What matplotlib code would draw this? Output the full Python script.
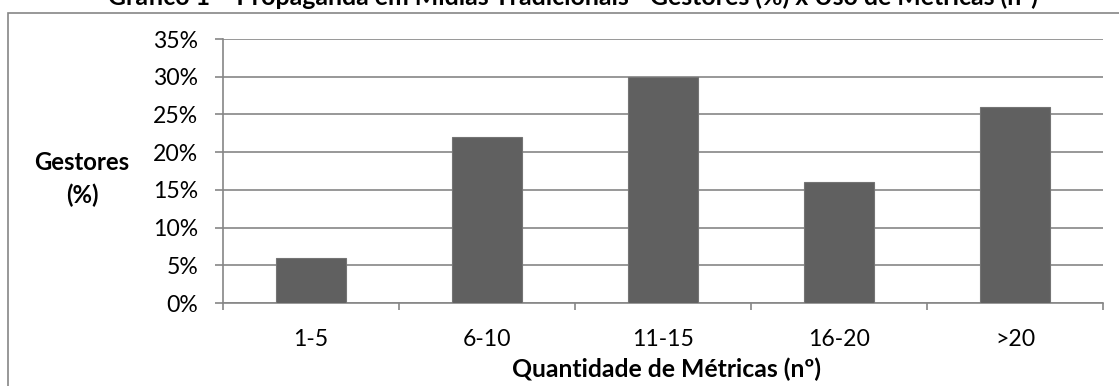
import matplotlib
matplotlib.use("Agg")
import matplotlib.pyplot as plt
from matplotlib.patches import Rectangle
from matplotlib.ticker import FixedLocator, FuncFormatter

categories = ["1-5", "6-10", "11-15", "16-20", ">20"]
gestores_pct = [6, 22, 30, 16, 26]
y_ticks = [0, 5, 10, 15, 20, 25, 30, 35]

title = "Gráfico 1 – Propaganda em Mídias Tradicionais - Gestores (%) x Uso de Métricas (nº)"
x_title = "Quantidade de Métricas (nº)"
y_title_lines = ["Gestores", "(%)"]

W, H = 1119, 386
plt.rcParams["font.family"] = ["Lato", "DejaVu Sans"]
grid_col = "#868686"
bar_col = "#606060"

fig = plt.figure(figsize=(W / 100, H / 100), dpi=100)
fig.patch.set_facecolor("white")
renderer = fig.canvas.get_renderer()


def fit_width(txt, width_px):
    """Scale a text's font size so that it spans the given width in pixels."""
    for _ in range(3):
        bb = txt.get_window_extent(renderer)
        txt.set_fontsize(txt.get_fontsize() * width_px / bb.width)
    return txt.get_fontsize()


def fx(px):
    return px / W


def fy(py):
    return 1 - py / H


# font size for tick labels, sized from a sample label
probe = fig.text(0, 0, "35%", fontsize=14)
tick_size = fit_width(probe, 45)
probe.remove()

# outer frame of the chart area (runs past the right and bottom edges)
frame = Rectangle((fx(8), -0.1), 1.2, (H - 13) / H + 0.1, transform=fig.transFigure,
                  fill=False, edgecolor=grid_col, linewidth=1.2, zorder=0)
fig.patches.append(frame)

ax = fig.add_axes([fx(223), 83 / H, 880 / W, 264 / H])
x = list(range(len(categories)))
ax.bar(x, gestores_pct, width=0.4, color=bar_col, edgecolor="#747474",
       linewidth=0.8, zorder=3)

ax.set_xlim(-0.5, len(categories) - 0.5)
ax.set_ylim(0, 35)
ax.set_axisbelow(True)

ax.yaxis.set_major_locator(FixedLocator(y_ticks))
ax.yaxis.set_major_formatter(FuncFormatter(lambda v, p: f"{int(v)}%"))
ax.grid(axis="y", color=grid_col, linewidth=1.2)
ax.tick_params(axis="y", length=6, width=1.2, color=grid_col, pad=12,
               labelsize=tick_size, labelcolor="black")

ax.set_xticks(x)
ax.set_xticklabels(categories)
ax.xaxis.set_minor_locator(FixedLocator([i - 0.5 for i in range(len(categories) + 1)]))
ax.tick_params(axis="x", which="major", length=0, pad=19, labelsize=tick_size)
ax.tick_params(axis="x", which="minor", length=5, width=1.2, color=grid_col)

for side in ("top", "right"):
    ax.spines[side].set_visible(False)
for side in ("left", "bottom"):
    ax.spines[side].set_color(grid_col)
    ax.spines[side].set_linewidth(1.2)

xt = fig.text(fx(667), fy(377), x_title, ha="center", va="baseline",
              fontsize=14, fontweight="bold")
fit_width(xt, 309)

g1 = fig.text(fx(82), fy(170), y_title_lines[0], ha="center", va="baseline",
              fontsize=14, fontweight="bold")
y_size = fit_width(g1, 95)
fig.text(fx(82), fy(203), y_title_lines[1], ha="center", va="baseline",
         fontsize=y_size, fontweight="bold")

tt = fig.text(fx(573), fy(5), title, ha="center", va="baseline",
              fontsize=14, fontweight="bold")
fit_width(tt, 930)

fig.savefig("out.png", dpi=100, facecolor="white")
